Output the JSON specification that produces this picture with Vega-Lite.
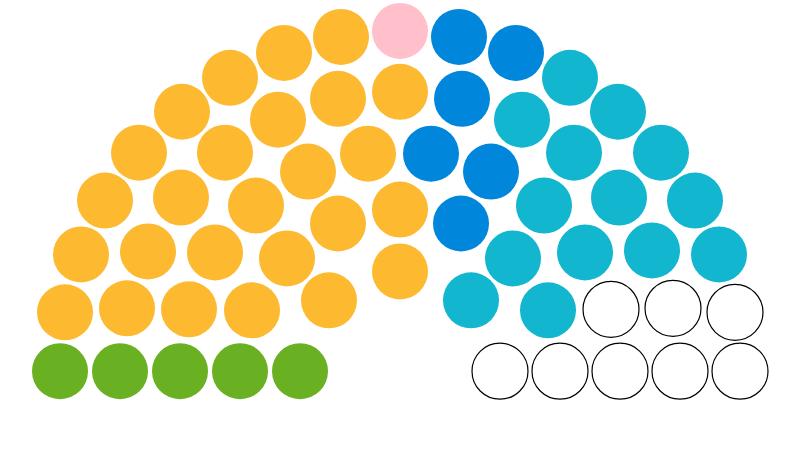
{
  "$schema": "https://vega.github.io/schema/vega-lite/v6.json",
  "width": 800,
  "height": 450,
  "autosize": {"type": "fit", "contains": "padding"},
  "padding": 0,
  "background": "white",
  "config": {"view": {"stroke": null}},
  "data": {
    "values": [
      {"party": "A", "x": 341, "y": 36},
      {"party": "A", "x": 284, "y": 52},
      {"party": "A", "x": 230, "y": 77},
      {"party": "A", "x": 182, "y": 111},
      {"party": "A", "x": 139, "y": 152},
      {"party": "A", "x": 105, "y": 200},
      {"party": "A", "x": 81, "y": 254},
      {"party": "A", "x": 65, "y": 312},
      {"party": "A", "x": 400, "y": 91},
      {"party": "A", "x": 338, "y": 98},
      {"party": "A", "x": 278, "y": 119},
      {"party": "A", "x": 225, "y": 152},
      {"party": "A", "x": 181, "y": 197},
      {"party": "A", "x": 148, "y": 251},
      {"party": "A", "x": 127, "y": 308},
      {"party": "A", "x": 368, "y": 153},
      {"party": "A", "x": 308, "y": 171},
      {"party": "A", "x": 256, "y": 205},
      {"party": "A", "x": 215, "y": 252},
      {"party": "A", "x": 189, "y": 309},
      {"party": "A", "x": 400, "y": 209},
      {"party": "A", "x": 338, "y": 223},
      {"party": "A", "x": 287, "y": 258},
      {"party": "A", "x": 252, "y": 310},
      {"party": "A", "x": 400, "y": 271},
      {"party": "A", "x": 329, "y": 300},
      {"party": "B", "x": 400, "y": 30},
      {"party": "C", "x": 459, "y": 36},
      {"party": "C", "x": 516, "y": 52},
      {"party": "C", "x": 462, "y": 98},
      {"party": "C", "x": 431, "y": 153},
      {"party": "C", "x": 491, "y": 171},
      {"party": "C", "x": 461, "y": 223},
      {"party": "D", "x": 570, "y": 77},
      {"party": "D", "x": 618, "y": 111},
      {"party": "D", "x": 661, "y": 152},
      {"party": "D", "x": 695, "y": 200},
      {"party": "D", "x": 522, "y": 119},
      {"party": "D", "x": 574, "y": 152},
      {"party": "D", "x": 619, "y": 197},
      {"party": "D", "x": 544, "y": 205},
      {"party": "D", "x": 513, "y": 258},
      {"party": "D", "x": 585, "y": 252},
      {"party": "D", "x": 652, "y": 250},
      {"party": "D", "x": 719, "y": 254},
      {"party": "D", "x": 471, "y": 300},
      {"party": "D", "x": 548, "y": 310},
      {"party": "Vacant", "x": 611, "y": 309},
      {"party": "Vacant", "x": 673, "y": 308},
      {"party": "Vacant", "x": 735, "y": 312},
      {"party": "E", "x": 60, "y": 371},
      {"party": "E", "x": 120, "y": 371},
      {"party": "E", "x": 180, "y": 371},
      {"party": "E", "x": 240, "y": 371},
      {"party": "E", "x": 300, "y": 371},
      {"party": "Vacant", "x": 500, "y": 371},
      {"party": "Vacant", "x": 560, "y": 371},
      {"party": "Vacant", "x": 620, "y": 371},
      {"party": "Vacant", "x": 680, "y": 371},
      {"party": "Vacant", "x": 740, "y": 371}
    ]
  },
  "mark": {"type": "point", "shape": "circle", "filled": true, "size": 3136, "opacity": 1, "strokeWidth": 1.2},
  "encoding": {
    "x": {"field": "x", "type": "quantitative", "scale": {"domain": [0, 800], "nice": false, "zero": false}, "axis": null},
    "y": {"field": "y", "type": "quantitative", "scale": {"domain": [0, 450], "nice": false, "zero": false, "reverse": true}, "axis": null},
    "fill": {"field": "party", "type": "nominal", "legend": null,
      "scale": {"domain": ["A", "B", "C", "D", "E", "Vacant"], "range": ["#FDB930", "#FFC0CB", "#0087DC", "#12B6CF", "#6AB023", "#FFFFFF"]}},
    "stroke": {"field": "party", "type": "nominal", "legend": null,
      "scale": {"domain": ["A", "B", "C", "D", "E", "Vacant"], "range": ["transparent", "transparent", "transparent", "transparent", "transparent", "#000000"]}}
  }
}
